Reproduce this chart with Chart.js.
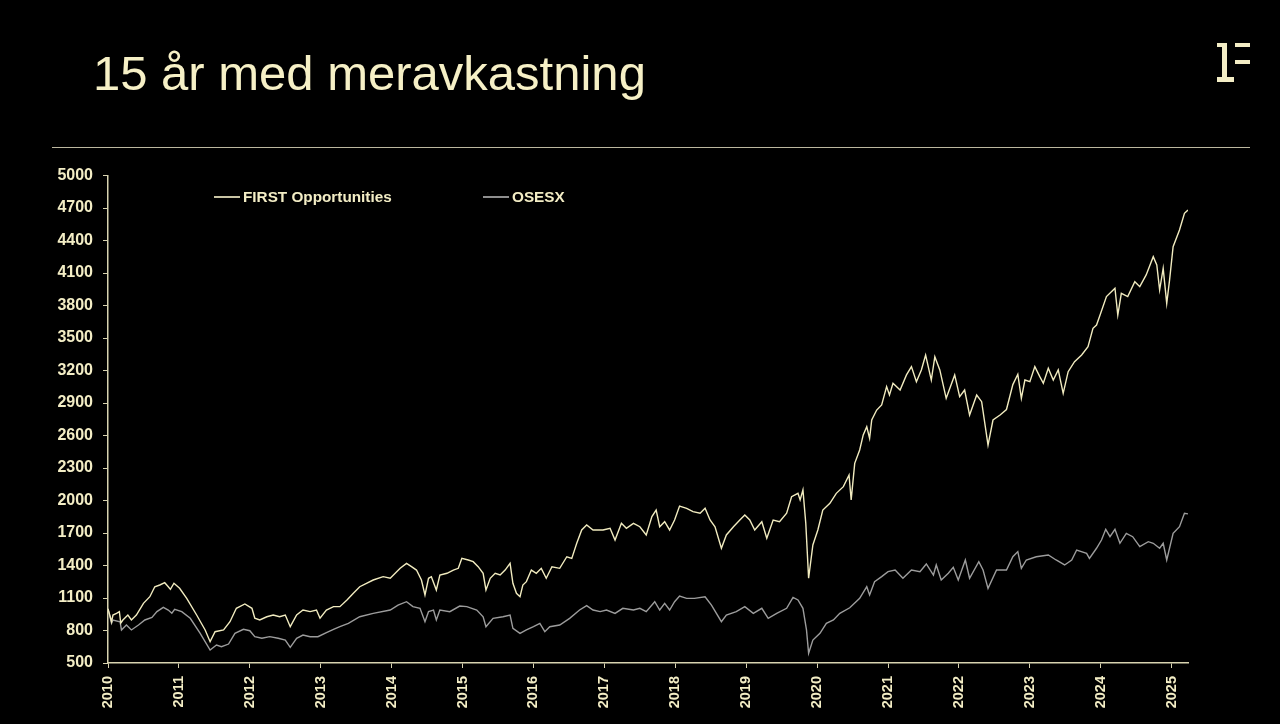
<!DOCTYPE html>
<html><head><meta charset="utf-8">
<script src="https://cdn.jsdelivr.net/npm/chart.js@4.4.1/dist/chart.umd.min.js"></script>
<style>
html,body{margin:0;padding:0;background:#000;width:1280px;height:724px;overflow:hidden;font-family:"Liberation Sans",Arial,sans-serif;}
#title{position:absolute;left:93px;top:49px;font-size:49px;color:#f6f0c6;line-height:1;white-space:nowrap;}
#rule{position:absolute;left:52px;top:147px;width:1198px;height:1px;background:#bcb79f;}
#wrap{position:absolute;left:0;top:0;width:1280px;height:724px;}
.lg{position:absolute;top:189px;height:16px;display:flex;align-items:center;font-weight:bold;font-size:15.3px;color:#f3edc5;white-space:nowrap;}
.lg .ln{display:inline-block;width:26px;height:1.5px;margin-right:3px;}
.lp{position:absolute;background:#f3edc5;}
</style></head><body>
<div id="title">15 år med meravkastning</div>
<div id="rule"></div>
<div class="lp" style="left:1217px;top:43px;width:10px;height:4px"></div>
<div class="lp" style="left:1222px;top:43px;width:5px;height:38px"></div>
<div class="lp" style="left:1217px;top:77px;width:17px;height:5px"></div>
<div class="lp" style="left:1235px;top:43px;width:15px;height:4px"></div>
<div class="lp" style="left:1235px;top:60px;width:15px;height:4px"></div>
<div id="wrap"><canvas id="c"></canvas></div>
<script>
const seriesNames = ["FIRST Opportunities", "OSESX"];
const xTicks = [2010,2011,2012,2013,2014,2015,2016,2017,2018,2019,2020,2021,2022,2023,2024,2025];
const yTicks = [500,800,1100,1400,1700,2000,2300,2600,2900,3200,3500,3800,4100,4400,4700,5000];

const firstX = [
2010.00,2010.03,2010.05,2010.07,2010.12,2010.16,2010.18,2010.21,2010.28,2010.33,
2010.40,2010.50,2010.59,2010.66,2010.73,2010.80,2010.85,2010.88,2010.93,2011.01,
2011.11,2011.25,2011.37,2011.44,2011.51,2011.63,2011.72,2011.81,2011.93,2012.03,
2012.07,2012.14,2012.24,2012.33,2012.42,2012.50,2012.57,2012.66,2012.75,2012.85,
2012.94,2012.99,2013.08,2013.18,2013.27,2013.37,2013.46,2013.55,2013.74,2013.88,
2013.98,2014.12,2014.21,2014.28,2014.35,2014.42,2014.47,2014.52,2014.56,2014.63,
2014.68,2014.78,2014.87,2014.94,2014.99,2015.08,2015.15,2015.22,2015.29,2015.33,
2015.39,2015.46,2015.53,2015.60,2015.67,2015.71,2015.76,2015.81,2015.85,2015.90,
2015.97,2016.04,2016.11,2016.18,2016.26,2016.37,2016.47,2016.54,2016.61,2016.68,
2016.75,2016.84,2016.98,2017.08,2017.15,2017.24,2017.31,2017.41,2017.50,2017.59,
2017.67,2017.73,2017.78,2017.85,2017.92,2017.99,2018.06,2018.16,2018.25,2018.35,
2018.42,2018.49,2018.56,2018.65,2018.72,2018.82,2018.91,2018.98,2019.05,2019.12,
2019.22,2019.29,2019.38,2019.47,2019.57,2019.64,2019.73,2019.76,2019.80,2019.84,
2019.88,2019.94,2020.01,2020.08,2020.18,2020.27,2020.37,2020.45,2020.48,2020.53,
2020.60,2020.65,2020.70,2020.74,2020.77,2020.84,2020.91,2020.98,2021.02,2021.07,
2021.17,2021.26,2021.33,2021.40,2021.47,2021.53,2021.61,2021.66,2021.73,2021.82,
2021.94,2022.01,2022.08,2022.15,2022.25,2022.32,2022.41,2022.48,2022.58,2022.67,
2022.76,2022.83,2022.88,2022.93,2023.00,2023.07,2023.14,2023.19,2023.26,2023.33,
2023.40,2023.47,2023.54,2023.63,2023.73,2023.82,2023.89,2023.94,2023.99,2024.08,
2024.20,2024.24,2024.29,2024.38,2024.48,2024.55,2024.64,2024.74,2024.79,2024.83,
2024.88,2024.93,2024.97,2025.02,2025.11,2025.18,2025.23];
const firstY = [
1000,930,881,943,959,974,869,897,943,897,
943,1051,1112,1204,1220,1241,1204,1180,1236,1190,
1097,943,805,697,789,805,881,1005,1045,1005,
913,897,927,943,927,943,835,943,989,974,
989,913,989,1020,1020,1082,1143,1204,1266,1297,
1282,1374,1420,1389,1358,1266,1128,1282,1297,1174,
1312,1328,1358,1374,1466,1451,1435,1389,1328,1174,
1282,1328,1312,1358,1420,1236,1143,1112,1220,1251,
1358,1328,1374,1282,1389,1374,1481,1466,1605,1728,
1774,1728,1728,1743,1635,1789,1743,1789,1758,1682,
1851,1912,1758,1804,1728,1820,1949,1928,1897,1882,
1928,1820,1758,1559,1682,1758,1820,1866,1820,1728,
1804,1651,1820,1804,1882,2035,2066,2005,2097,1790,
1282,1590,1728,1912,1974,2066,2128,2235,2005,2343,
2466,2605,2681,2574,2743,2835,2882,3051,2974,3082,
3020,3159,3236,3097,3205,3343,3112,3327,3205,2943,
3159,2959,3020,2789,2974,2912,2512,2743,2789,2840,
3070,3165,2943,3112,3097,3236,3143,3082,3220,3112,
3205,2989,3189,3282,3343,3420,3589,3620,3712,3882,
3959,3712,3912,3882,4020,3974,4082,4251,4174,3943,
4143,3820,4035,4343,4497,4651,4682];

const osesxX = [
2010.00,2010.05,2010.07,2010.17,2010.19,2010.26,2010.33,2010.43,2010.52,2010.62,
2010.69,2010.78,2010.85,2010.90,2010.94,2011.04,2011.16,2011.30,2011.44,2011.53,
2011.60,2011.70,2011.79,2011.91,2012.00,2012.07,2012.17,2012.28,2012.40,2012.50,
2012.57,2012.66,2012.75,2012.85,2012.96,2013.08,2013.18,2013.27,2013.39,2013.55,
2013.74,2013.98,2014.09,2014.21,2014.30,2014.40,2014.47,2014.52,2014.59,2014.63,
2014.68,2014.82,2014.96,2015.06,2015.20,2015.29,2015.33,2015.43,2015.57,2015.67,
2015.71,2015.81,2015.90,2016.00,2016.09,2016.16,2016.23,2016.37,2016.51,2016.65,
2016.75,2016.84,2016.94,2017.03,2017.15,2017.26,2017.41,2017.50,2017.59,2017.71,
2017.78,2017.85,2017.92,2017.99,2018.06,2018.16,2018.27,2018.42,2018.51,2018.65,
2018.72,2018.86,2018.98,2019.10,2019.22,2019.31,2019.43,2019.57,2019.66,2019.73,
2019.80,2019.85,2019.88,2019.94,2020.04,2020.13,2020.23,2020.32,2020.46,2020.60,
2020.70,2020.74,2020.81,2020.91,2021.00,2021.10,2021.21,2021.33,2021.45,2021.54,
2021.64,2021.68,2021.75,2021.85,2021.92,2021.99,2022.09,2022.15,2022.28,2022.34,
2022.41,2022.53,2022.67,2022.76,2022.83,2022.88,2022.95,2023.09,2023.26,2023.37,
2023.49,2023.59,2023.66,2023.80,2023.84,2023.94,2024.01,2024.07,2024.13,2024.20,
2024.27,2024.36,2024.45,2024.55,2024.67,2024.74,2024.83,2024.88,2024.93,2025.02,
2025.11,2025.18,2025.23];
const osesxY = [
1000,866,897,881,805,851,805,851,897,921,
974,1014,989,959,996,974,913,774,620,666,
651,675,774,811,798,743,728,743,728,712,
645,728,758,743,743,780,811,836,866,927,
958,989,1035,1066,1020,1005,881,974,989,897,
989,974,1026,1020,989,927,835,912,927,943,
820,774,805,835,866,789,835,851,912,989,
1030,989,974,989,958,1005,989,1005,974,1066,
989,1051,989,1066,1118,1097,1097,1112,1035,881,
943,974,1020,958,1005,912,958,1005,1106,1082,
1005,805,590,712,774,866,897,958,1010,1097,
1204,1128,1251,1297,1343,1358,1282,1358,1343,1414,
1312,1405,1266,1328,1383,1266,1451,1282,1435,1358,
1189,1358,1358,1481,1528,1374,1451,1481,1497,1451,
1405,1451,1543,1512,1466,1559,1635,1734,1666,1734,
1605,1697,1666,1574,1620,1605,1559,1605,1451,1697,
1758,1882,1876];

const seriesColors = ["#f1ebbf", "#9c9c9c"];
const legendColors = ["#c9c4a4", "#8e8e8e"];
const cream = "#f3edc5";
const axisColor = "#d8d3b0";

function pts(xs, ys){ const n=Math.min(xs.length, ys.length); const o=[]; for(let i=0;i<n;i++) o.push({x:xs[i], y:ys[i]}); return o; }

const font = {family:"'Liberation Sans', Arial, sans-serif", weight:'bold'};
const chart = new Chart(document.getElementById('c'), {
  type:'line',
  data:{datasets:[
    {label:seriesNames[0], data:pts(firstX, firstY), borderColor:seriesColors[0], borderWidth:1.4, pointRadius:0, tension:0, fill:false},
    {label:seriesNames[1], data:pts(osesxX, osesxY), borderColor:seriesColors[1], borderWidth:1.4, pointRadius:0, tension:0, fill:false}
  ]},
  options:{
    responsive:true, maintainAspectRatio:false, animation:false,
    layout:{padding:{left:0, top:175.5, right:92, bottom:0}},
    plugins:{legend:{display:false}, tooltip:{enabled:false}},
    scales:{
      x:{type:'linear', min:2010, max:2025.23,
        afterBuildTicks:s=>{ s.ticks = xTicks.map(v=>({value:v})); },
        afterFit:s=>{ s.height = 61; },
        ticks:{color:cream, font:Object.assign({size:14.5}, font), minRotation:90, maxRotation:90, padding:8, autoSkip:false, callback:v=>String(v)},
        grid:{drawOnChartArea:false, color:axisColor, tickLength:5, lineWidth:1},
        border:{color:axisColor, width:1.5}
      },
      y:{min:500, max:5000,
        afterBuildTicks:s=>{ s.ticks = yTicks.map(v=>({value:v})); },
        afterFit:s=>{ s.width = 108; },
        ticks:{color:cream, font:Object.assign({size:16}, font), padding:10, callback:v=>String(v)},
        grid:{drawOnChartArea:false, color:axisColor, tickLength:5, lineWidth:1},
        border:{color:axisColor, width:1.5}
      }
    }
  }
});

// legend built from the chart's datasets
const legendLeft = [214, 483];
chart.data.datasets.forEach((ds, i) => {
  const d = document.createElement('div');
  d.className = 'lg';
  d.style.left = legendLeft[i] + 'px';
  const ln = document.createElement('span');
  ln.className = 'ln';
  ln.style.background = legendColors[i];
  d.appendChild(ln);
  d.appendChild(document.createTextNode(ds.label));
  document.body.appendChild(d);
});
</script>
</body></html>
